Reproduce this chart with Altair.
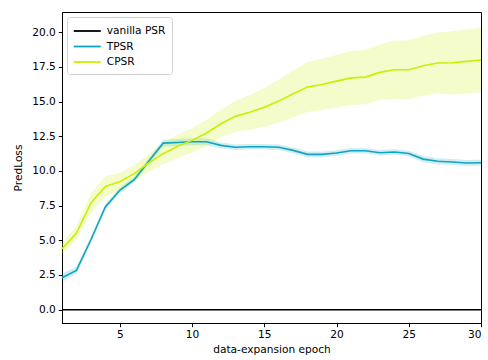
import altair as alt
import pandas as pd

# Epochs of data expansion
epochs = list(range(1, 31))

# Mean prediction loss per epoch
vanilla_mean = [0.0] * 30
tpsr_mean = [2.3, 2.83, 5.04, 7.4, 8.6, 9.37, 10.7, 12.0, 12.05, 12.1,
             12.1, 11.84, 11.7, 11.74, 11.74, 11.7, 11.48, 11.19, 11.19, 11.29,
             11.45, 11.45, 11.31, 11.36, 11.26, 10.85, 10.69, 10.64, 10.57, 10.59]
cpsr_mean = [4.39, 5.52, 7.68, 8.88, 9.22, 9.8, 10.57, 11.24, 11.77, 12.2,
             12.73, 13.4, 13.93, 14.22, 14.58, 15.03, 15.56, 16.04, 16.23, 16.47,
             16.7, 16.76, 17.1, 17.29, 17.29, 17.58, 17.77, 17.79, 17.89, 17.99]

# Spread (half width of the shaded band) per epoch
vanilla_spread = [0.0] * 30
tpsr_spread = [0.3, 0.25, 0.2, 0.2, 0.2, 0.2, 0.2, 0.25, 0.25, 0.25,
               0.25, 0.2, 0.2, 0.2, 0.2, 0.2, 0.2, 0.2, 0.2, 0.2,
               0.2, 0.2, 0.2, 0.2, 0.2, 0.22, 0.22, 0.22, 0.22, 0.22]
cpsr_spread = [0.4, 0.5, 0.7, 0.75, 0.65, 0.6, 0.65, 0.75, 0.85, 0.9,
               0.95, 1.0, 1.1, 1.25, 1.4, 1.55, 1.7, 1.8, 1.85, 1.9,
               1.95, 1.95, 2.0, 2.1, 2.1, 2.15, 2.2, 2.28, 2.3, 2.32]

series_names = ["vanilla PSR", "TPSR", "CPSR"]
series_colors = ["#000000", "#10a5be", "#c8f000"]

rows = []
for name, means, spreads in zip(series_names,
                                [vanilla_mean, tpsr_mean, cpsr_mean],
                                [vanilla_spread, tpsr_spread, cpsr_spread]):
    for e, m, s in zip(epochs, means, spreads):
        rows.append({"series": name, "epoch": e, "mean": m,
                     "lo": m - s, "hi": m + s})
df = pd.DataFrame(rows)

x = alt.X("epoch:Q", title="data-expansion epoch",
          scale=alt.Scale(domain=[1, 30], nice=False, zero=False),
          axis=alt.Axis(values=[5, 10, 15, 20, 25, 30], format="d"))
y_scale = alt.Scale(domain=[-0.96, 21.45], nice=False, zero=False)
y_axis = alt.Axis(values=[0, 2.5, 5, 7.5, 10, 12.5, 15, 17.5, 20],
                  format=".1f", labelOverlap=False)

# Shaded spread around each mean curve
bands = alt.Chart(df).mark_area(fillOpacity=0.2).encode(
    x=x,
    y=alt.Y("lo:Q", scale=y_scale, title="PredLoss", axis=y_axis),
    y2="hi:Q",
    fill=alt.Fill("series:N",
                  scale=alt.Scale(domain=series_names, range=series_colors),
                  legend=None),
    detail="series:N",
)

# Mean curves with legend (long horizontal line swatches)
lines = alt.Chart(df).mark_line(strokeWidth=1.6).encode(
    x=x,
    y=alt.Y("mean:Q", scale=y_scale, title="PredLoss", axis=y_axis),
    stroke=alt.Stroke(
        "series:N",
        scale=alt.Scale(domain=series_names, range=series_colors),
        sort=series_names,
        legend=alt.Legend(
            title=None, orient="top-left", offset=5,
            symbolType="M-2,0H2", symbolSize=182, symbolStrokeWidth=1.8,
            symbolOffset=6.25, symbolOpacity=1,
            labelFontSize=10.6, labelFont="DejaVu Sans", labelColor="black",
            rowPadding=1.5, padding=6, fillColor="rgba(255,255,255,0.8)",
            strokeColor="#d0d0d0", cornerRadius=3, labelOffset=11.5,
        ),
    ),
    order=alt.Order("epoch:Q"),
)

chart = (
    alt.layer(bands, lines)
    .resolve_legend(fill="independent", stroke="independent")
    .properties(
        width=419, height=311,
        autosize=alt.AutoSizeParams(type="none"),
        padding={"left": 62, "top": 12, "right": 7, "bottom": 37},
        background="white",
    )
    .configure_view(stroke="black", strokeWidth=1)
    .configure_axis(
        grid=False, domainColor="black", domainWidth=1,
        tickColor="black", tickSize=3.7, tickWidth=1,
        labelFont="DejaVu Sans", labelFontSize=10.6, labelColor="black",
        titleFont="DejaVu Sans", titleFontSize=10.6, titleFontWeight="normal",
        titleColor="black", labelPadding=3,
    )
    .configure_axisY(titlePadding=8)
    .configure_axisX(titlePadding=4)
)

chart.save("out.html", embed_options={"renderer": "svg", "actions": False})
